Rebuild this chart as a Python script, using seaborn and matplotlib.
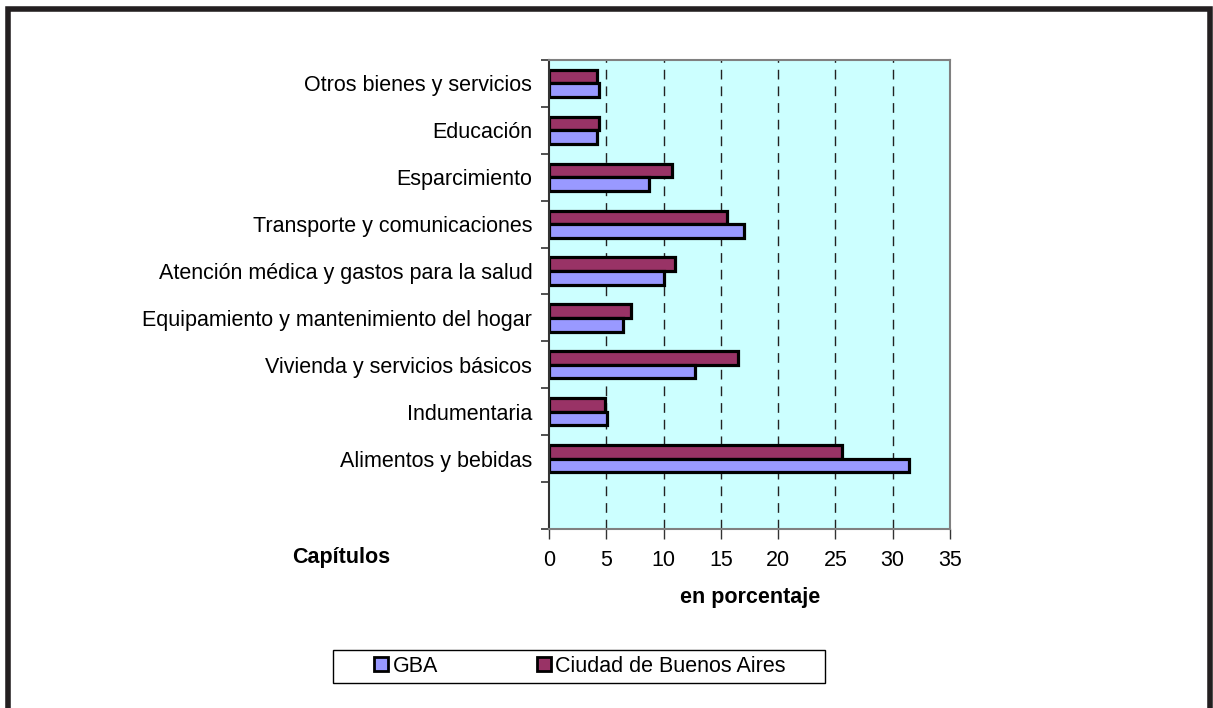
import pandas as pd
import matplotlib
matplotlib.use("Agg")
import matplotlib.pyplot as plt
from matplotlib.patches import Patch, Rectangle
from matplotlib.ticker import MultipleLocator, FixedLocator
import seaborn as sns

# data (percent of spending by chapter)
capitulos = [
    "Otros bienes y servicios",
    "Educación",
    "Esparcimiento",
    "Transporte y comunicaciones",
    "Atención médica y gastos para la salud",
    "Equipamiento y mantenimiento del hogar",
    "Vivienda y servicios básicos",
    "Indumentaria",
    "Alimentos y bebidas",
]
gba = [4.4, 4.2, 8.7, 17.0, 10.0, 6.5, 12.7, 5.1, 31.4]
ciudad = [4.2, 4.4, 10.7, 15.5, 11.0, 7.2, 16.5, 4.9, 25.6]
series = ["GBA", "Ciudad de Buenos Aires"]
colores = {"GBA": "#9999FF", "Ciudad de Buenos Aires": "#993366"}

df = pd.DataFrame({
    "capitulo": capitulos * 2,
    "valor": gba + ciudad,
    "serie": ["GBA"] * len(gba) + ["Ciudad de Buenos Aires"] * len(ciudad),
})

sns.set_style("white")
plt.rcParams["font.family"] = ["Liberation Sans", "DejaVu Sans"]
plt.rcParams["text.color"] = "black"
plt.rcParams["xtick.color"] = "black"
plt.rcParams["ytick.color"] = "black"

fig = plt.figure(figsize=(12.13, 7.08), dpi=100)
ax = fig.add_axes([549 / 1213, 1 - 529 / 708, (950 - 549) / 1213, (529 - 60) / 708])
ax.set_facecolor("#CCFFFF")

sns.barplot(data=df, y="capitulo", x="valor", hue="serie",
            hue_order=["Ciudad de Buenos Aires", "GBA"], order=capitulos,
            palette=colores, orient="h", width=0.58, edgecolor="black",
            linewidth=2.3, saturation=1, legend=False, ax=ax)

# empty slot below the last category, like the original
ax.set_ylim(9.5, -0.5)
ax.set_xlim(0, 35)
ax.xaxis.set_major_locator(MultipleLocator(5))
for v in range(5, 35, 5):
    ax.axvline(v, color="#222222", linestyle=(0, (7, 5)), linewidth=1.0, zorder=0)

ax.set_xlabel("")
ax.set_ylabel("")
ax.tick_params(axis="y", which="major", length=0, pad=12, labelsize=15.5)
ax.yaxis.set_minor_locator(FixedLocator([i - 0.5 for i in range(11)]))
ax.tick_params(axis="y", which="minor", length=6, width=1.2, color="#333333", direction="out", left=True)
ax.tick_params(axis="x", which="major", length=7, width=1, color="#333333", direction="out",
               bottom=True, pad=8, labelsize=15.5)

for s in ax.spines.values():
    s.set_color("#808080")
    s.set_linewidth(1.5)
ax.spines["left"].set_color("#333333")

fig.text(341 / 1213, 1 - 558 / 708, "Capítulos", fontsize=15.5, fontweight="bold",
         ha="center", va="center")
fig.text(750 / 1213, 1 - 598 / 708, "en porcentaje", fontsize=15.5, fontweight="bold",
         ha="center", va="center")

# legend box drawn separately, entries centred inside it
fig.patches.append(Rectangle((333 / 1213, 1 - 683 / 708), 492 / 1213, 33 / 708,
                             transform=fig.transFigure, fill=True, facecolor="white",
                             edgecolor="black", linewidth=1.0, zorder=1))
handles = [Patch(facecolor=colores[s], edgecolor="black", linewidth=2.0) for s in series]
leg = fig.legend(handles, series, ncol=2, fontsize=15.5,
                 bbox_to_anchor=(580 / 1213, 1 - 666 / 708), loc="center",
                 frameon=False, handlelength=0.65, handleheight=0.65,
                 handletextpad=0.2, columnspacing=4.6, borderaxespad=0)

# outer frame of the picture
fig.patches.append(Rectangle((8 / 1213, -0.05), (1210 - 8) / 1213, 1.05 - 9 / 708,
                             transform=fig.transFigure, fill=False,
                             edgecolor="#231f20", linewidth=4))

fig.savefig("out.png", dpi=100)
